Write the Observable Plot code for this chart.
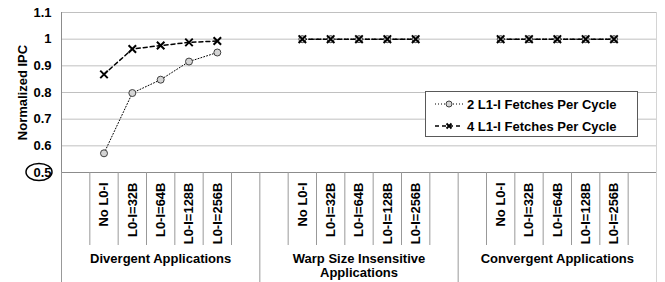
<!DOCTYPE html>
<html>
<head>
<meta charset="utf-8">
<script src="https://cdn.jsdelivr.net/npm/d3@7"></script>
<script src="https://cdn.jsdelivr.net/npm/@observablehq/plot@0.6"></script>
<style>
  body { margin: 0; background: #fff; }
  #wrap { position: relative; width: 665px; height: 282px; font-family: "Liberation Sans", Arial, sans-serif; }
  #legend { position: absolute; left: 425px; top: 91px; width: 211px; height: 44px; border: 1px solid #595959; background: #fff; font-weight: bold; font-size: 13px; color: #000; }
  .row { position: absolute; left: 8px; height: 16px; display: flex; align-items: center; white-space: nowrap; }
  .row svg { margin-right: 3px; }
</style>
</head>
<body>
<div id="wrap"></div>
<script>
// ---- data ----
const groups = ["Divergent Applications", "Warp Size Insensitive\nApplications", "Convergent Applications"];
const configs = ["No L0-I", "L0-I=32B", "L0-I=64B", "L0-I=128B", "L0-I=256B"];
const seriesNames = ["2 L1-I Fetches Per Cycle", "4 L1-I Fetches Per Cycle"];
const fetch2 = [
  [0.572, 0.798, 0.848, 0.916, 0.950],
  [1, 1, 1, 1, 1],
  [1, 1, 1, 1, 1]
];
const fetch4 = [
  [0.868, 0.963, 0.976, 0.988, 0.993],
  [1, 1, 1, 1, 1],
  [1, 1, 1, 1, 1]
];
const yTicks = [0.5, 0.6, 0.7, 0.8, 0.9, 1.0, 1.1];

// ---- layout of category slots: each group = blank + 5 configs + blank ----
const slotsPerGroup = configs.length + 2;
const nSlots = groups.length * slotsPerGroup;
const slotCenter = (g, j) => g * slotsPerGroup + 1 + j + 0.5;

const rows = [];
[fetch2, fetch4].forEach((s, si) => {
  s.forEach((vals, g) => vals.forEach((v, j) => rows.push({
    series: seriesNames[si], group: g, config: configs[j], x: slotCenter(g, j), y: v
  })));
});
const rows2 = rows.filter(d => d.series === seriesNames[0]);
const rows4 = rows.filter(d => d.series === seriesNames[1]);

const catTicks = [];
const catLabel = new Map();
groups.forEach((g, gi) => configs.forEach((c, j) => { catTicks.push(slotCenter(gi, j)); catLabel.set(slotCenter(gi, j), c); }));
const groupBounds = d3.range(0, nSlots + 1, slotsPerGroup);
const innerBounds = d3.range(1, nSlots).filter(b => b % slotsPerGroup !== 0);
const groupRows = groups.map((g, gi) => ({name: g, x: gi * slotsPerGroup + slotsPerGroup / 2}));

const plot = Plot.plot({
  width: 665,
  height: 282,
  marginLeft: 61,
  marginRight: 9,
  marginTop: 12,
  marginBottom: 110,
  style: {fontFamily: "'Liberation Sans', Arial, sans-serif", fontSize: "13px", fontWeight: "bold", color: "#000", background: "#fff"},
  x: {type: "linear", domain: [0, nSlots]},
  y: {domain: [0.5, 1.1]},
  marks: [
    Plot.gridY(yTicks.filter(t => t > 0.5), {stroke: "#c0c0c0", strokeOpacity: 1}),
    Plot.ruleX([nSlots], {stroke: "#d4d4d4"}),
    Plot.ruleX([0], {stroke: "#8c8c8c"}),
    Plot.ruleY([0.5], {stroke: "#8c8c8c"}),
    Plot.axisY({ticks: yTicks, tickSize: 0, tickPadding: 10, tickFormat: d => String(+d.toFixed(1)),
      label: "Normalized IPC", labelAnchor: "center", labelArrow: "none", labelOffset: 44}),
    Plot.axisX({ticks: innerBounds, tickSize: 73, tickFormat: () => "", stroke: "#999", label: null}),
    Plot.axisX({ticks: groupBounds.slice(0, -1), tickSize: 110, tickFormat: () => "", stroke: "#999", label: null}),
    Plot.axisX({ticks: [nSlots], tickSize: 110, tickFormat: () => "", stroke: "#d4d4d4", label: null}),
    Plot.axisX({ticks: catTicks, tickSize: 0, tickPadding: 10, tickRotate: -90, tickFormat: d => catLabel.get(d), label: null}),
    Plot.text(groupRows, {x: "x", text: "name", frameAnchor: "bottom", dy: 80, lineAnchor: "top", lineHeight: 1.1, fontSize: 13, fontWeight: "bold", fill: "#000"}),
    Plot.line(rows2, {x: "x", y: "y", z: "group", stroke: "#000", strokeWidth: 1, strokeDasharray: "1,2"}),
    Plot.line(rows4, {x: "x", y: "y", z: "group", stroke: "#000", strokeWidth: 1.5, strokeDasharray: "4,3"}),
    Plot.dot(rows2, {x: "x", y: "y", r: 3.5, fill: "#d4d4d4", stroke: "#404040", strokeWidth: 1}),
    Plot.dot(rows4, {x: "x", y: "y", r: 3.5, symbol: "times", fill: "none", stroke: "#000", strokeWidth: 2})
  ]
});

// circle around the 0.5 tick label
const y05 = plot.scale("y").apply(0.5);
const ell = document.createElementNS("http://www.w3.org/2000/svg", "ellipse");
ell.setAttribute("cx", 39); ell.setAttribute("cy", y05);
ell.setAttribute("rx", 13); ell.setAttribute("ry", 8.5);
ell.setAttribute("fill", "none"); ell.setAttribute("stroke", "#000"); ell.setAttribute("stroke-width", 1.5);
plot.appendChild(ell);

const wrap = document.getElementById("wrap");
wrap.appendChild(plot);

// legend
const legend = document.createElement("div");
legend.id = "legend";
const sample = (i) => i === 0
  ? `<svg width="30" height="10"><line x1="1" y1="5" x2="29" y2="5" stroke="#000" stroke-width="1" stroke-dasharray="1,2"/><circle cx="15" cy="5" r="3" fill="#d4d4d4" stroke="#404040"/></svg>`
  : `<svg width="30" height="10"><line x1="1" y1="5" x2="29" y2="5" stroke="#000" stroke-width="1.5" stroke-dasharray="4,3"/><path d="M12.5,2.5L17.5,7.5M17.5,2.5L12.5,7.5" stroke="#000" stroke-width="1.8"/></svg>`;
seriesNames.forEach((s, i) => {
  const r = document.createElement("div");
  r.className = "row";
  r.style.top = (i === 0 ? 4 : 26) + "px";
  r.innerHTML = sample(i) + `<span>${s}</span>`;
  legend.appendChild(r);
});
wrap.appendChild(legend);
</script>
</body>
</html>
